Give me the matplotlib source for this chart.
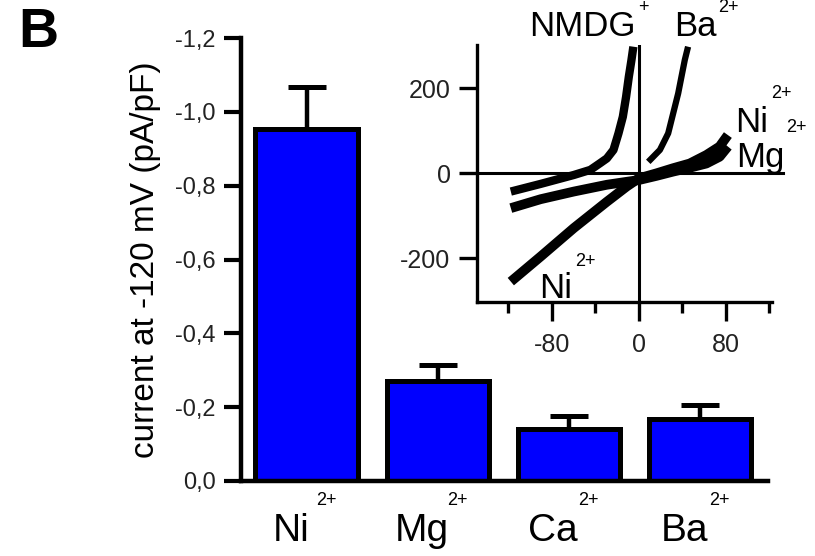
import matplotlib
matplotlib.use("Agg")
import matplotlib.pyplot as plt

# bar data (current at -120 mV, pA/pF)
ions = ["Ni", "Mg", "Ca", "Ba"]
current = [-0.953, -0.27, -0.14, -0.167]
sem = [0.115, 0.044, 0.037, 0.038]
yticks = [0.0, -0.2, -0.4, -0.6, -0.8, -1.0, -1.2]
yticklabels = ["0,0", "-0,2", "-0,4", "-0,6", "-0,8", "-1,0", "-1,2"]

# inset I-V traces (mV, pA)
v_nmdg = [-117.6, -90.2, -59.7, -44.5, -35.4, -29.3, -23.2, -18.6, -14.6, -11.6, -9.1, -6.7, -4.9]
i_nmdg = [-43, -25, -4, 8, 24, 35, 55, 94, 133, 180, 227, 266, 298]
v_ba = [8.8, 19.5, 27.1, 31.7, 36.3, 39.3, 42.4, 45.4]
i_ba = [27, 55, 94, 141, 188, 227, 267, 298]
v_ni = [-117.6, -90.2, -59.7, -29.3, -11.0, 0.0, 16.5, 31.7, 46.9, 62.2, 74.4, 82.0]
i_ni = [-255, -196, -129, -67, -31, -12, 0, 12, 23, 43, 63, 90]
v_mg = [-117.6, -90.2, -59.7, -29.3, -11.0, 0.0, 16.5, 31.7, 46.9, 62.2, 74.4, 82.0]
i_mg = [-82, -61, -43, -27, -20, -16, -6, 4, 13, 23, 39, 63]

fam = "Liberation Sans"
W, H = 815, 556

fig = plt.figure(figsize=(W / 100, H / 100), dpi=100)
ax = fig.add_axes([241 / W, 1 - 481 / H, (768 - 241) / W, (481 - 38) / H])

x = range(len(ions))
ax.bar(x, current, width=0.78, color="#0000ff", edgecolor="black", linewidth=3.6, zorder=2)
ax.errorbar(x, current, yerr=[sem, [0] * 4], fmt="none", ecolor="black",
            elinewidth=3.2, capsize=14, capthick=3.6, zorder=1)
ax.set_xlim(-0.5, 3.52)
ax.set_ylim(0, -1.2)
ax.set_yticks(yticks)
ax.set_yticklabels(yticklabels, family=fam, fontsize=17, color="#222222")
ax.set_xticks([])
for s in ["top", "right"]:
    ax.spines[s].set_visible(False)
for s in ["left", "bottom"]:
    ax.spines[s].set_linewidth(3.2)
ax.tick_params(axis="y", length=12, width=3, pad=6)
ax.set_ylabel("current at -120 mV (pA/pF)", fontsize=24, family=fam, labelpad=10)

tr = ax.get_xaxis_transform()
for i, name in enumerate(ions):
    ax.text(i - 0.12, -0.113, name, transform=tr, ha="center", va="center",
            fontsize=28, family=fam)
    ax.text(i + 0.15, -0.043, "2+", transform=tr, ha="center", va="center",
            fontsize=13, family=fam)

fig.text(38 / W, 1 - 33 / H, "B", fontsize=40, fontweight="bold",
         family=fam, ha="center", va="center")

# inset I-V plot
ins = fig.add_axes([477 / W, 1 - 302 / H, (771.7 - 477) / W, (302 - 45) / H])
ins.set_xlim(-148.7, 122.3)
ins.set_ylim(-303, 302)
ins.axhline(0, color="black", lw=2.2, xmax=1.04, clip_on=False)
ins.axvline(0, color="black", lw=2.2, zorder=1)
ins.plot(v_nmdg, i_nmdg, color="black", lw=6, solid_capstyle="butt")
ins.plot(v_ba, i_ba, color="black", lw=4.5, solid_capstyle="butt")
ins.plot(v_mg, i_mg, color="black", lw=7, solid_capstyle="butt")
ins.plot(v_ni, i_ni, color="black", lw=7, solid_capstyle="butt")
ins.patch.set_visible(False)
for s in ["top", "right"]:
    ins.spines[s].set_visible(False)
for s in ["left", "bottom"]:
    ins.spines[s].set_linewidth(2.4)
ins.set_xticks([-80, 0, 80])
ins.set_xticks([-120, -40, 40, 120], minor=True)
ins.set_yticks([-200, 0, 200])
ins.set_xticklabels(["-80", "0", "80"], family=fam, fontsize=18, color="#222222")
ins.set_yticklabels(["-200", "0", "200"], family=fam, fontsize=18, color="#222222")
ins.tick_params(axis="x", which="major", length=14, width=2.4, pad=8)
ins.tick_params(axis="x", which="minor", length=7.7, width=2.4)
ins.tick_params(axis="y", length=13, width=2.4, pad=6)

# inset trace labels
def lab(px, py, s, size):
    fig.text(px / W, 1 - py / H, s, fontsize=size, family=fam, ha="center", va="center")

lab(582, 27, "NMDG", 25)
lab(643, 8, "+", 13)
lab(695, 27, "Ba", 25)
lab(728, 8, "2+", 13)
lab(752, 123, "Ni", 25)
lab(781, 93, "2+", 13)
lab(796, 128, "2+", 13)
lab(760, 158, "Mg", 25)
lab(556, 289, "Ni", 25)
lab(585, 262, "2+", 13)

fig.savefig("out.png", dpi=100)
